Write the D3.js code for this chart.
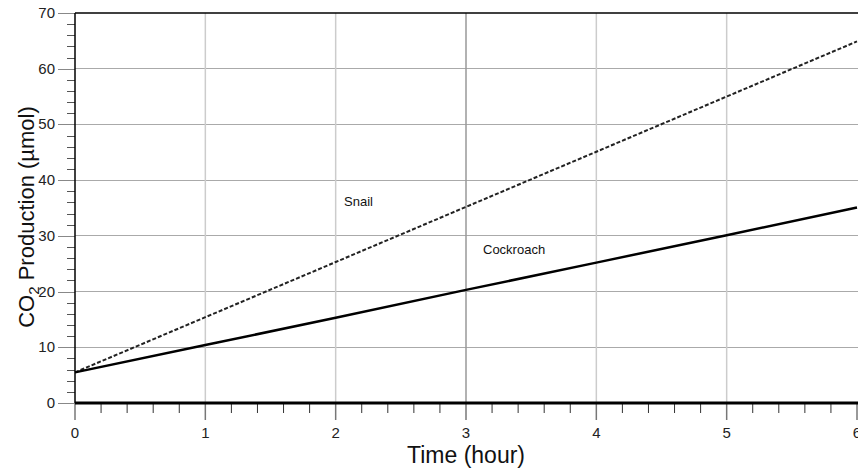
<!DOCTYPE html>
<html>
<head>
<script src="https://d3js.org/d3.v7.min.js"></script>
<style>
  body { margin: 0; background: #fff; }
  svg { display: block; font-family: Arial, "Liberation Sans", sans-serif; }
</style>
</head>
<body>
<div id="chart"></div>
<script>
// data
const hours = [0, 1, 2, 3, 4, 5, 6];
const snail = [5.5, 15.4, 25.3, 35.2, 45.1, 55.0, 64.9];
const cockroach = [5.5, 10.4, 15.3, 20.3, 25.2, 30.1, 35.1];
const yTicks = [0, 10, 20, 30, 40, 50, 60, 70];

const width = 858, height = 468;
const svg = d3.select("#chart").append("svg")
  .attr("width", width).attr("height", height);

const x = d3.scaleLinear().domain([0, 6]).range([75, 857]);
const y = d3.scaleLinear().domain([0, 70]).range([403, 13]);

// grid
svg.append("g").selectAll("line")
  .data([10, 20, 30, 40, 50, 60]).join("line")
  .attr("x1", x(0)).attr("x2", width)
  .attr("y1", d => y(d)).attr("y2", d => y(d))
  .attr("stroke", "#aaa").attr("stroke-width", 1).attr("shape-rendering", "crispEdges");
svg.append("g").selectAll("line")
  .data([1, 2, 3, 4, 5]).join("line")
  .attr("x1", d => x(d)).attr("x2", d => x(d))
  .attr("y1", y(70)).attr("y2", y(0))
  .attr("stroke", d => d === 3 ? "#999" : "#ccc").attr("stroke-width", 1.5);

// y axis ticks
const minorY = d3.range(0, 70.1, 2).filter(d => d % 10 !== 0);
svg.append("g").selectAll("line").data(minorY).join("line")
  .attr("x1", 67).attr("x2", x(0))
  .attr("y1", d => Math.round(y(d)) + 0.5).attr("y2", d => Math.round(y(d)) + 0.5)
  .attr("stroke", "#555");
svg.append("g").selectAll("line").data(yTicks).join("line")
  .attr("x1", 58).attr("x2", x(0))
  .attr("y1", d => Math.round(y(d)) + 0.5).attr("y2", d => Math.round(y(d)) + 0.5)
  .attr("stroke", "#888");
svg.append("g").selectAll("text").data(yTicks).join("text")
  .attr("x", 55).attr("y", d => y(d) + 5)
  .attr("text-anchor", "end").attr("font-size", 15).attr("fill", "#222")
  .text(d => d);

// x axis ticks
const minorX = d3.range(0, 6.01, 0.2).filter(d => Math.abs(d - Math.round(d)) > 0.01);
svg.append("g").selectAll("line").data(minorX).join("line")
  .attr("x1", d => x(d)).attr("x2", d => x(d))
  .attr("y1", y(0)).attr("y2", y(0) + 10)
  .attr("stroke", "#333").attr("stroke-width", 1);
svg.append("g").selectAll("line").data(hours).join("line")
  .attr("x1", d => x(d)).attr("x2", d => x(d))
  .attr("y1", y(0)).attr("y2", y(0) + 17)
  .attr("stroke", "#777").attr("stroke-width", 1.5);
svg.append("g").selectAll("text").data(hours).join("text")
  .attr("x", d => x(d)).attr("y", 438)
  .attr("text-anchor", "middle").attr("font-size", 15).attr("fill", "#222")
  .text(d => d);

// frame
svg.append("line").attr("x1", x(0)).attr("x2", width)
  .attr("y1", y(70)).attr("y2", y(70)).attr("stroke", "#000").attr("stroke-width", 1.5);
svg.append("line").attr("x1", x(0)).attr("x2", x(0))
  .attr("y1", y(70)).attr("y2", y(0)).attr("stroke", "#000").attr("stroke-width", 1.5);
svg.append("line").attr("x1", x(0)).attr("x2", width)
  .attr("y1", y(0)).attr("y2", y(0)).attr("stroke", "#000").attr("stroke-width", 3);

// lines
const line = d3.line().x((d, i) => x(hours[i])).y(d => y(d));
svg.append("path").datum(snail).attr("d", line)
  .attr("fill", "none").attr("stroke", "#222").attr("stroke-width", 2)
  .attr("stroke-dasharray", "4,2");
svg.append("path").datum(cockroach).attr("d", line)
  .attr("fill", "none").attr("stroke", "#000").attr("stroke-width", 2.5);

// labels
svg.append("text").attr("x", 344).attr("y", 206)
  .attr("font-size", 13).attr("fill", "#111").text("Snail");
svg.append("text").attr("x", 483).attr("y", 254)
  .attr("font-size", 13).attr("fill", "#111").text("Cockroach");

// axis titles
svg.append("text").attr("x", x(3)).attr("y", 463)
  .attr("text-anchor", "middle").attr("font-size", 23).attr("fill", "#111")
  .text("Time (hour)");
const yt = svg.append("text")
  .attr("transform", "translate(34,217) rotate(-90)")
  .attr("text-anchor", "middle").attr("font-size", 22).attr("fill", "#111");
yt.append("tspan").text("CO");
yt.append("tspan").attr("font-size", 15).attr("dy", 5).text("2");
yt.append("tspan").attr("dy", -5).text(" Production (µmol)");
</script>
</body>
</html>
